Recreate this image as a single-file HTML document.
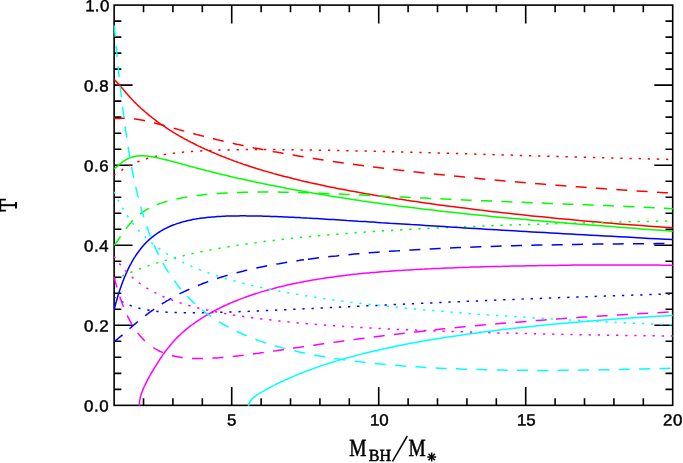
<!DOCTYPE html>
<html><head><meta charset="utf-8"><title>T vs M_BH/M_*</title>
<style>html,body{margin:0;padding:0;background:#fff;}body{width:683px;height:463px;overflow:hidden;}svg{display:block;will-change:transform;}text{font-family:"Liberation Sans",sans-serif;fill:#000;}.ser{font-family:"Liberation Serif",serif;}</style>
</head><body>
<svg width="683" height="463" viewBox="0 0 683 463">
<rect x="0" y="0" width="683" height="463" fill="#ffffff"/>
<g stroke="#000" stroke-width="1.60" fill="none" stroke-linecap="square">
<rect x="114.13" y="5.10" width="558.57" height="400.25"/>
</g>
<g stroke="#000" stroke-width="1.60" fill="none" stroke-linecap="butt">
<path d="M143.53,405.35 v-7.20 M143.53,5.10 v7.20"/>
<path d="M172.93,405.35 v-7.20 M172.93,5.10 v7.20"/>
<path d="M202.33,405.35 v-7.20 M202.33,5.10 v7.20"/>
<path d="M231.72,405.35 v-18.40 M231.72,5.10 v18.40"/>
<path d="M261.12,405.35 v-7.20 M261.12,5.10 v7.20"/>
<path d="M290.52,405.35 v-7.20 M290.52,5.10 v7.20"/>
<path d="M319.92,405.35 v-7.20 M319.92,5.10 v7.20"/>
<path d="M349.32,405.35 v-7.20 M349.32,5.10 v7.20"/>
<path d="M378.72,405.35 v-18.40 M378.72,5.10 v18.40"/>
<path d="M408.11,405.35 v-7.20 M408.11,5.10 v7.20"/>
<path d="M437.51,405.35 v-7.20 M437.51,5.10 v7.20"/>
<path d="M466.91,405.35 v-7.20 M466.91,5.10 v7.20"/>
<path d="M496.31,405.35 v-7.20 M496.31,5.10 v7.20"/>
<path d="M525.71,405.35 v-18.40 M525.71,5.10 v18.40"/>
<path d="M555.11,405.35 v-7.20 M555.11,5.10 v7.20"/>
<path d="M584.50,405.35 v-7.20 M584.50,5.10 v7.20"/>
<path d="M613.90,405.35 v-7.20 M613.90,5.10 v7.20"/>
<path d="M643.30,405.35 v-7.20 M643.30,5.10 v7.20"/>
<path d="M114.13,389.34 h7.20 M672.70,389.34 h-7.20"/>
<path d="M114.13,373.33 h7.20 M672.70,373.33 h-7.20"/>
<path d="M114.13,357.32 h7.20 M672.70,357.32 h-7.20"/>
<path d="M114.13,341.31 h7.20 M672.70,341.31 h-7.20"/>
<path d="M114.13,325.30 h18.40 M672.70,325.30 h-18.40"/>
<path d="M114.13,309.29 h7.20 M672.70,309.29 h-7.20"/>
<path d="M114.13,293.28 h7.20 M672.70,293.28 h-7.20"/>
<path d="M114.13,277.27 h7.20 M672.70,277.27 h-7.20"/>
<path d="M114.13,261.26 h7.20 M672.70,261.26 h-7.20"/>
<path d="M114.13,245.25 h18.40 M672.70,245.25 h-18.40"/>
<path d="M114.13,229.24 h7.20 M672.70,229.24 h-7.20"/>
<path d="M114.13,213.23 h7.20 M672.70,213.23 h-7.20"/>
<path d="M114.13,197.22 h7.20 M672.70,197.22 h-7.20"/>
<path d="M114.13,181.21 h7.20 M672.70,181.21 h-7.20"/>
<path d="M114.13,165.20 h18.40 M672.70,165.20 h-18.40"/>
<path d="M114.13,149.19 h7.20 M672.70,149.19 h-7.20"/>
<path d="M114.13,133.18 h7.20 M672.70,133.18 h-7.20"/>
<path d="M114.13,117.17 h7.20 M672.70,117.17 h-7.20"/>
<path d="M114.13,101.16 h7.20 M672.70,101.16 h-7.20"/>
<path d="M114.13,85.15 h18.40 M672.70,85.15 h-18.40"/>
<path d="M114.13,69.14 h7.20 M672.70,69.14 h-7.20"/>
<path d="M114.13,53.13 h7.20 M672.70,53.13 h-7.20"/>
<path d="M114.13,37.12 h7.20 M672.70,37.12 h-7.20"/>
<path d="M114.13,21.11 h7.20 M672.70,21.11 h-7.20"/>
</g>
<defs><clipPath id="cp"><rect x="113.53" y="4.50" width="559.77" height="401.45"/></clipPath></defs>
<g fill="none" stroke-width="1.50" clip-path="url(#cp)">
<path id="red_solid" d="M114.2,79.7L114.6,80.0L115.0,80.4L115.4,80.8L115.8,81.2L116.3,81.6L116.7,82.1L117.2,82.5L117.6,83.0L118.0,83.5L118.5,84.0L119.0,84.5L119.4,85.1L119.9,85.6L120.4,86.2L120.9,86.7L121.4,87.3L121.9,87.9L122.4,88.5L122.9,89.1L123.5,89.7L124.0,90.3L124.5,91.0L125.1,91.6L125.6,92.3L126.2,92.9L126.8,93.6L127.3,94.2L127.9,94.9L128.5,95.5L129.1,96.2L129.7,96.9L130.3,97.6L131.0,98.2L131.6,98.9L132.2,99.6L132.9,100.3L133.6,101.0L134.2,101.7L134.9,102.4L135.6,103.1L136.3,103.8L137.0,104.5L137.7,105.2L138.5,105.9L139.2,106.6L140.0,107.3L140.7,108.0L141.5,108.7L142.3,109.4L143.1,110.1L143.9,110.8L144.7,111.5L145.5,112.2L146.3,112.9L147.2,113.7L148.1,114.4L148.9,115.1L149.8,115.8L150.7,116.5L151.6,117.2L152.5,118.0L153.5,118.7L154.4,119.4L155.4,120.1L156.3,120.8L157.3,121.6L158.3,122.3L159.3,123.0L160.3,123.8L161.4,124.5L162.4,125.2L163.5,126.0L164.6,126.7L165.7,127.4L166.8,128.2L167.9,128.9L169.1,129.6L170.2,130.4L171.4,131.1L172.6,131.8L173.8,132.6L175.1,133.3L176.3,134.1L177.6,134.8L178.8,135.6L180.1,136.3L181.4,137.0L182.8,137.8L184.1,138.5L185.5,139.3L186.9,140.0L188.3,140.8L189.7,141.5L191.2,142.3L192.6,143.0L194.1,143.8L195.6,144.5L197.1,145.3L198.7,146.1L200.3,146.8L201.8,147.6L203.5,148.3L205.1,149.1L206.8,149.8L208.4,150.6L210.1,151.3L211.9,152.1L213.6,152.8L215.4,153.6L217.2,154.3L219.0,155.1L220.8,155.8L222.7,156.6L224.6,157.3L226.6,158.1L228.5,158.8L230.5,159.6L232.5,160.3L234.5,161.1L236.6,161.8L238.7,162.6L240.8,163.3L242.9,164.1L245.1,164.8L247.3,165.5L249.6,166.3L251.8,167.0L254.1,167.7L256.5,168.5L258.8,169.2L261.2,169.9L263.7,170.7L266.1,171.4L268.6,172.1L271.2,172.8L273.7,173.6L276.3,174.3L279.0,175.0L281.6,175.7L284.4,176.4L287.1,177.1L289.9,177.8L292.7,178.5L295.6,179.2L298.5,179.9L301.4,180.7L304.4,181.4L307.4,182.1L310.5,182.8L313.6,183.4L316.8,184.1L319.9,184.8L323.2,185.5L326.5,186.2L329.8,186.9L333.2,187.6L336.6,188.3L340.1,188.9L343.6,189.6L347.1,190.3L350.8,191.0L354.4,191.6L358.1,192.3L361.9,193.0L365.7,193.7L369.6,194.3L373.5,195.0L377.5,195.7L381.5,196.3L385.6,197.0L389.7,197.7L393.9,198.3L398.2,199.0L402.5,199.6L406.9,200.3L411.3,200.9L415.8,201.6L420.4,202.3L425.0,202.9L429.7,203.6L434.4,204.2L439.3,204.9L444.1,205.5L449.1,206.2L454.1,206.8L459.2,207.5L464.4,208.1L469.6,208.8L474.9,209.4L480.2,210.1L485.7,210.7L491.2,211.4L496.8,212.0L502.5,212.7L508.2,213.3L514.1,213.9L520.0,214.6L526.0,215.2L532.1,215.9L538.2,216.5L544.5,217.1L550.8,217.8L557.2,218.4L563.7,219.0L570.3,219.6L577.0,220.3L583.8,220.9L590.7,221.5L597.6,222.1L604.7,222.7L611.9,223.3L619.1,223.9L626.5,224.5L633.9,225.0L641.5,225.6L649.2,226.2L656.9,226.7L664.8,227.3L672.8,227.8" stroke="#ff0000"/>
<path id="red_dashed" d="M113.8,118.5L114.2,118.5L114.6,118.5L115.0,118.5L115.4,118.5L115.8,118.5L116.3,118.5L116.7,118.5L117.2,118.5L117.6,118.5L118.0,118.4L118.5,118.4L119.0,118.4L119.4,118.4L119.9,118.4L120.4,118.3L120.9,118.3L121.4,118.3L121.9,118.3L122.4,118.3L122.9,118.3L123.5,118.3L124.0,118.3L124.5,118.3L125.1,118.3L125.6,118.3L126.2,118.3L126.8,118.3L127.3,118.3L127.9,118.4L128.5,118.4L129.1,118.4L129.7,118.5L130.3,118.5L131.0,118.5L131.6,118.6L132.2,118.7L132.9,118.7L133.6,118.8L134.2,118.9L134.9,119.0L135.6,119.1L136.3,119.2L137.0,119.3L137.7,119.4L138.5,119.5L139.2,119.6L140.0,119.7L140.7,119.9L141.5,120.0L142.3,120.2L143.1,120.3L143.9,120.5L144.7,120.7L145.5,120.8L146.3,121.0L147.2,121.2L148.1,121.4L148.9,121.6L149.8,121.8L150.7,122.0L151.6,122.2L152.5,122.5L153.5,122.7L154.4,122.9L155.4,123.2L156.3,123.4L157.3,123.7L158.3,124.0L159.3,124.2L160.3,124.5L161.4,124.8L162.4,125.1L163.5,125.3L164.6,125.6L165.7,126.0L166.8,126.2L167.9,126.6L169.1,126.9L170.2,127.2L171.4,127.5L172.6,127.9L173.8,128.2L175.1,128.6L176.3,128.9L177.6,129.2L178.8,129.6L180.1,130.0L181.4,130.3L182.8,130.7L184.1,131.1L185.5,131.4L186.9,131.8L188.3,132.2L189.7,132.6L191.2,133.0L192.6,133.4L194.1,133.8L195.6,134.2L197.1,134.6L198.7,135.0L200.3,135.4L201.8,135.8L203.5,136.2L205.1,136.7L206.8,137.1L208.4,137.5L210.1,137.9L211.9,138.4L213.6,138.8L215.4,139.2L217.2,139.7L219.0,140.1L220.8,140.6L222.7,141.0L224.6,141.4L226.6,141.9L228.5,142.3L230.5,142.8L232.5,143.2L234.5,143.7L236.6,144.2L238.7,144.6L240.8,145.1L242.9,145.5L245.1,146.0L247.3,146.5L249.6,146.9L251.8,147.4L254.1,147.9L256.5,148.3L258.8,148.8L261.2,149.3L263.7,149.8L266.1,150.2L268.6,150.7L271.2,151.2L273.7,151.7L276.3,152.1L279.0,152.6L281.6,153.1L284.4,153.6L287.1,154.1L289.9,154.5L292.7,155.0L295.6,155.5L298.5,156.0L301.4,156.5L304.4,157.0L307.4,157.5L310.5,157.9L313.6,158.4L316.8,158.9L319.9,159.4L323.2,159.9L326.5,160.4L329.8,160.9L333.2,161.4L336.6,161.9L340.1,162.4L343.6,162.9L347.1,163.4L350.8,163.9L354.4,164.4L358.1,164.9L361.9,165.4L365.7,165.9L369.6,166.4L373.5,166.9L377.5,167.4L381.5,167.9L385.6,168.4L389.7,168.9L393.9,169.4L398.2,169.9L402.5,170.4L406.9,170.9L411.3,171.5L415.8,172.0L420.4,172.5L425.0,173.0L429.7,173.5L434.4,174.0L439.3,174.5L444.1,175.0L449.1,175.6L454.1,176.1L459.2,176.6L464.4,177.1L469.6,177.6L474.9,178.1L480.2,178.7L485.7,179.2L491.2,179.7L496.8,180.2L502.5,180.7L508.2,181.2L514.1,181.7L520.0,182.2L526.0,182.8L532.1,183.3L538.2,183.8L544.5,184.3L550.8,184.8L557.2,185.3L563.7,185.8L570.3,186.3L577.0,186.8L583.8,187.3L590.7,187.8L597.6,188.3L604.7,188.8L611.9,189.3L619.1,189.8L626.5,190.3L633.9,190.8L641.5,191.2L649.2,191.7L656.9,192.2L664.8,192.7L672.8,193.1" stroke="#ff0000" stroke-dasharray="11.05 9.3"/>
<path id="red_dotted" d="M114.2,175.2L114.6,174.9L115.0,174.7L115.4,174.4L115.8,174.1L116.3,173.8L116.7,173.5L117.2,173.2L117.6,172.9L118.0,172.6L118.5,172.3L119.0,172.0L119.4,171.7L119.9,171.4L120.4,171.1L120.9,170.8L121.4,170.4L121.9,170.1L122.4,169.8L122.9,169.4L123.5,169.1L124.0,168.8L124.5,168.5L125.1,168.1L125.6,167.8L126.2,167.5L126.8,167.1L127.3,166.8L127.9,166.5L128.5,166.2L129.1,165.8L129.7,165.5L130.3,165.2L131.0,164.9L131.6,164.6L132.2,164.2L132.9,163.9L133.6,163.6L134.2,163.3L134.9,163.0L135.6,162.7L136.3,162.4L137.0,162.1L137.7,161.8L138.5,161.5L139.2,161.2L140.0,160.9L140.7,160.7L141.5,160.4L142.3,160.1L143.1,159.8L143.9,159.6L144.7,159.3L145.5,159.0L146.3,158.8L147.2,158.5L148.1,158.3L148.9,158.0L149.8,157.8L150.7,157.5L151.6,157.3L152.5,157.1L153.5,156.8L154.4,156.6L155.4,156.4L156.3,156.2L157.3,155.9L158.3,155.7L159.3,155.5L160.3,155.3L161.4,155.1L162.4,154.9L163.5,154.8L164.6,154.6L165.7,154.4L166.8,154.2L167.9,154.0L169.1,153.8L170.2,153.7L171.4,153.5L172.6,153.4L173.8,153.2L175.1,153.1L176.3,152.9L177.6,152.8L178.8,152.6L180.1,152.5L181.4,152.3L182.8,152.2L184.1,152.1L185.5,152.0L186.9,151.8L188.3,151.7L189.7,151.6L191.2,151.5L192.6,151.4L194.1,151.3L195.6,151.2L197.1,151.1L198.7,151.0L200.3,150.9L201.8,150.8L203.5,150.7L205.1,150.7L206.8,150.6L208.4,150.5L210.1,150.4L211.9,150.4L213.6,150.3L215.4,150.2L217.2,150.2L219.0,150.1L220.8,150.1L222.7,150.0L224.6,150.0L226.6,149.9L228.5,149.9L230.5,149.8L232.5,149.8L234.5,149.8L236.6,149.7L238.7,149.7L240.8,149.7L242.9,149.7L245.1,149.6L247.3,149.6L249.6,149.6L251.8,149.6L254.1,149.6L256.5,149.6L258.8,149.6L261.2,149.6L263.7,149.6L266.1,149.6L268.6,149.6L271.2,149.6L273.7,149.6L276.3,149.6L279.0,149.7L281.6,149.7L284.4,149.7L287.1,149.7L289.9,149.7L292.7,149.8L295.6,149.8L298.5,149.8L301.4,149.9L304.4,149.9L307.4,150.0L310.5,150.0L313.6,150.1L316.8,150.1L319.9,150.2L323.2,150.2L326.5,150.3L329.8,150.3L333.2,150.4L336.6,150.5L340.1,150.6L343.6,150.6L347.1,150.7L350.8,150.8L354.4,150.9L358.1,150.9L361.9,151.0L365.7,151.1L369.6,151.2L373.5,151.3L377.5,151.4L381.5,151.5L385.6,151.6L389.7,151.7L393.9,151.8L398.2,151.9L402.5,152.1L406.9,152.2L411.3,152.3L415.8,152.4L420.4,152.5L425.0,152.7L429.7,152.8L434.4,152.9L439.3,153.1L444.1,153.2L449.1,153.3L454.1,153.5L459.2,153.6L464.4,153.8L469.6,153.9L474.9,154.1L480.2,154.2L485.7,154.4L491.2,154.6L496.8,154.7L502.5,154.9L508.2,155.0L514.1,155.2L520.0,155.4L526.0,155.6L532.1,155.7L538.2,155.9L544.5,156.1L550.8,156.3L557.2,156.4L563.7,156.6L570.3,156.8L577.0,157.0L583.8,157.2L590.7,157.4L597.6,157.6L604.7,157.7L611.9,157.9L619.1,158.1L626.5,158.3L633.9,158.5L641.5,158.7L649.2,158.9L656.9,159.1L664.8,159.3L672.8,159.5" stroke="#ff0000" stroke-dasharray="2.3 6.84" stroke-dashoffset="0.65"/>
<path id="green_solid" d="M114.2,168.8L114.6,168.6L115.0,168.2L115.4,167.9L115.8,167.6L116.3,167.2L116.7,166.8L117.2,166.5L117.6,166.1L118.0,165.7L118.5,165.3L119.0,164.9L119.4,164.5L119.9,164.1L120.4,163.7L120.9,163.3L121.4,162.9L121.9,162.5L122.4,162.1L122.9,161.7L123.5,161.3L124.0,161.0L124.5,160.6L125.1,160.3L125.6,159.9L126.2,159.6L126.8,159.3L127.3,159.0L127.9,158.7L128.5,158.4L129.1,158.2L129.7,157.9L130.3,157.7L131.0,157.4L131.6,157.2L132.2,157.0L132.9,156.8L133.6,156.7L134.2,156.5L134.9,156.4L135.6,156.2L136.3,156.1L137.0,156.1L137.7,156.0L138.5,155.9L139.2,155.8L140.0,155.8L140.7,155.8L141.5,155.8L142.3,155.8L143.1,155.8L143.9,155.8L144.7,155.9L145.5,155.9L146.3,156.0L147.2,156.1L148.1,156.2L148.9,156.3L149.8,156.4L150.7,156.5L151.6,156.7L152.5,156.8L153.5,157.0L154.4,157.2L155.4,157.3L156.3,157.5L157.3,157.7L158.3,157.9L159.3,158.2L160.3,158.4L161.4,158.7L162.4,158.9L163.5,159.2L164.6,159.4L165.7,159.7L166.8,160.0L167.9,160.3L169.1,160.6L170.2,160.9L171.4,161.2L172.6,161.5L173.8,161.8L175.1,162.2L176.3,162.5L177.6,162.8L178.8,163.2L180.1,163.6L181.4,163.9L182.8,164.3L184.1,164.6L185.5,165.0L186.9,165.4L188.3,165.8L189.7,166.2L191.2,166.6L192.6,166.9L194.1,167.3L195.6,167.8L197.1,168.2L198.7,168.6L200.3,169.0L201.8,169.4L203.5,169.8L205.1,170.2L206.8,170.7L208.4,171.1L210.1,171.5L211.9,172.0L213.6,172.4L215.4,172.8L217.2,173.3L219.0,173.8L220.8,174.2L222.7,174.7L224.6,175.1L226.6,175.6L228.5,176.0L230.5,176.5L232.5,177.0L234.5,177.4L236.6,177.9L238.7,178.4L240.8,178.8L242.9,179.3L245.1,179.8L247.3,180.3L249.6,180.8L251.8,181.3L254.1,181.8L256.5,182.2L258.8,182.8L261.2,183.2L263.7,183.8L266.1,184.2L268.6,184.8L271.2,185.3L273.7,185.8L276.3,186.3L279.0,186.8L281.6,187.3L284.4,187.8L287.1,188.4L289.9,188.9L292.7,189.4L295.6,189.9L298.5,190.5L301.4,191.0L304.4,191.5L307.4,192.1L310.5,192.6L313.6,193.2L316.8,193.7L319.9,194.2L323.2,194.8L326.5,195.3L329.8,195.9L333.2,196.4L336.6,197.0L340.1,197.5L343.6,198.1L347.1,198.6L350.8,199.2L354.4,199.7L358.1,200.3L361.9,200.9L365.7,201.4L369.6,202.0L373.5,202.5L377.5,203.1L381.5,203.7L385.6,204.2L389.7,204.8L393.9,205.3L398.2,205.9L402.5,206.4L406.9,207.0L411.3,207.6L415.8,208.1L420.4,208.7L425.0,209.2L429.7,209.8L434.4,210.3L439.3,210.9L444.1,211.5L449.1,212.0L454.1,212.6L459.2,213.1L464.4,213.7L469.6,214.2L474.9,214.8L480.2,215.3L485.7,215.8L491.2,216.4L496.8,216.9L502.5,217.5L508.2,218.0L514.1,218.5L520.0,219.1L526.0,219.6L532.1,220.2L538.2,220.7L544.5,221.2L550.8,221.8L557.2,222.3L563.7,222.8L570.3,223.4L577.0,223.9L583.8,224.4L590.7,225.0L597.6,225.5L604.7,226.1L611.9,226.6L619.1,227.2L626.5,227.7L633.9,228.3L641.5,228.9L649.2,229.4L656.9,230.0L664.8,230.6L672.8,231.2" stroke="#00ff00"/>
<path id="green_dashed" d="M113.9,245.2L114.2,245.0L114.6,244.6L115.0,244.2L115.4,243.7L115.8,243.2L116.3,242.6L116.7,242.1L117.2,241.5L117.6,240.8L118.0,240.2L118.5,239.5L119.0,238.8L119.4,238.1L119.9,237.4L120.4,236.7L120.9,236.0L121.4,235.2L121.9,234.5L122.4,233.7L122.9,232.9L123.5,232.2L124.0,231.4L124.5,230.7L125.1,229.9L125.6,229.1L126.2,228.4L126.8,227.6L127.3,226.9L127.9,226.1L128.5,225.4L129.1,224.7L129.7,223.9L130.3,223.2L131.0,222.5L131.6,221.8L132.2,221.1L132.9,220.4L133.6,219.7L134.2,219.1L134.9,218.4L135.6,217.8L136.3,217.1L137.0,216.5L137.7,215.9L138.5,215.3L139.2,214.7L140.0,214.1L140.7,213.5L141.5,213.0L142.3,212.4L143.1,211.9L143.9,211.3L144.7,210.8L145.5,210.3L146.3,209.8L147.2,209.3L148.1,208.8L148.9,208.4L149.8,207.9L150.7,207.5L151.6,207.0L152.5,206.6L153.2,206.3M156.9,204.7L157.3,204.6L158.3,204.2L159.3,203.8L160.3,203.4L161.4,203.1L162.4,202.7L163.5,202.4L164.6,202.0L165.7,201.7L166.8,201.4L167.9,201.1L169.1,200.8L170.2,200.4L171.4,200.2L172.6,199.9L173.8,199.6L175.1,199.3L176.3,199.0L177.6,198.8L178.8,198.5L180.1,198.2L181.4,198.0L182.8,197.7L184.1,197.5L185.5,197.2L186.9,197.0L188.3,196.8L189.7,196.6L191.2,196.3L192.6,196.1L194.1,195.9L195.6,195.7L197.1,195.5L198.7,195.3L200.3,195.2L201.8,195.0L203.5,194.8L205.1,194.6L206.8,194.5L208.4,194.3L210.1,194.1L211.9,194.0L213.6,193.8L215.4,193.7L217.2,193.6L219.0,193.4L220.8,193.3L222.7,193.2L224.6,193.1L226.6,193.0L228.5,192.9L230.5,192.8L232.5,192.7L234.5,192.6L236.6,192.5L238.7,192.4L240.8,192.4L242.9,192.3L245.1,192.3L247.3,192.2L249.6,192.2L251.8,192.1L254.1,192.1L256.5,192.1L258.8,192.1L261.2,192.0L263.7,192.0L266.1,192.0L268.6,192.1L271.2,192.1L273.7,192.1L276.3,192.1L279.0,192.1L281.6,192.2L284.4,192.2L287.1,192.3L289.9,192.3L292.7,192.4L295.6,192.5L298.5,192.6L301.4,192.6L304.4,192.7L307.4,192.8L310.5,192.9L313.6,193.0L316.8,193.2L319.9,193.3L323.2,193.4L326.5,193.5L329.8,193.7L333.2,193.8L336.6,193.9L340.1,194.1L343.6,194.3L347.1,194.4L350.8,194.6L354.4,194.8L358.1,194.9L361.9,195.1L365.7,195.3L369.6,195.5L373.5,195.7L377.5,195.8L381.5,196.1L385.6,196.2L389.7,196.4L393.9,196.7L398.2,196.9L402.5,197.1L406.9,197.3L411.3,197.5L415.8,197.7L420.4,197.9L425.0,198.1L429.7,198.4L434.4,198.6L439.3,198.8L444.1,199.0L449.1,199.2L454.1,199.5L459.2,199.7L464.4,199.9L469.6,200.2L474.9,200.4L480.2,200.6L485.7,200.8L491.2,201.1L496.8,201.3L502.5,201.5L508.2,201.8L514.1,202.0L520.0,202.2L526.0,202.4L532.1,202.7L538.2,202.9L544.5,203.2L550.8,203.4L557.2,203.7L563.7,203.9L570.3,204.2L577.0,204.4L583.8,204.7L590.7,205.0L597.6,205.2L604.7,205.5L611.9,205.8L619.1,206.1L626.5,206.5L633.9,206.8L641.5,207.1L649.2,207.5L656.9,207.9L664.8,208.2L672.8,208.7" stroke="#00ff00" stroke-dasharray="11.05 9.3"/>
<path id="green_dotted" d="M114.2,279.4L114.6,279.3L115.0,279.1L115.4,278.9L115.8,278.8L116.3,278.6L116.7,278.4L117.2,278.2L117.6,278.0L118.0,277.8L118.5,277.6L119.0,277.4L119.4,277.2L119.9,277.0L120.4,276.8L120.9,276.6L121.4,276.3L121.9,276.1L122.4,275.9L122.9,275.7L123.5,275.4L124.0,275.2L124.5,275.0L125.1,274.8L125.6,274.5L126.2,274.3L126.8,274.0L127.3,273.8L127.9,273.5L128.5,273.3L129.1,273.0L129.7,272.8L130.3,272.5L131.0,272.3L131.6,272.0L132.2,271.8L132.9,271.5L133.6,271.2L134.2,271.0L134.9,270.7L135.6,270.4L136.3,270.2L137.0,269.9L137.7,269.6L138.5,269.3L139.2,269.1L140.0,268.8L140.7,268.5L141.5,268.2L142.3,267.9L143.1,267.6L143.9,267.4L144.7,267.1L145.5,266.8L146.3,266.5L147.2,266.2L148.1,265.9L148.9,265.6L149.8,265.3L150.7,265.0L151.6,264.7L152.5,264.4L153.5,264.1L154.4,263.8L155.4,263.5L156.3,263.2L157.3,262.9L158.3,262.6L159.3,262.2L160.3,261.9L161.4,261.6L162.4,261.3L163.5,261.0L164.6,260.7L165.7,260.4L166.8,260.1L167.9,259.7L169.1,259.4L170.2,259.1L171.4,258.8L172.6,258.5L173.8,258.1L175.1,257.8L176.3,257.5L177.6,257.2L178.8,256.9L180.1,256.5L181.4,256.2L182.8,255.9L184.1,255.6L185.5,255.2L186.9,254.9L188.3,254.6L189.7,254.3L191.2,253.9L192.6,253.6L194.1,253.3L195.6,252.9L197.1,252.6L198.7,252.3L200.3,252.0L201.8,251.6L203.5,251.3L205.1,251.0L206.8,250.7L208.4,250.3L210.1,250.0L211.9,249.7L213.6,249.3L215.4,249.0L217.2,248.7L219.0,248.4L220.8,248.0L222.7,247.7L224.6,247.4L226.6,247.1L228.5,246.7L230.5,246.4L232.5,246.1L234.5,245.8L236.6,245.4L238.7,245.1L240.8,244.8L242.9,244.5L245.1,244.2L247.3,243.8L249.6,243.5L251.8,243.2L254.1,242.9L256.5,242.6L258.8,242.2L261.2,241.9L263.7,241.6L266.1,241.3L268.6,241.0L271.2,240.7L273.7,240.4L276.3,240.1L279.0,239.8L281.6,239.4L284.4,239.2L287.1,238.8L289.9,238.5L292.7,238.2L295.6,237.9L298.5,237.6L301.4,237.3L304.4,237.1L307.4,236.8L310.5,236.5L313.6,236.2L316.8,235.9L319.9,235.6L323.2,235.3L326.5,235.0L329.8,234.8L333.2,234.5L336.6,234.2L340.1,233.9L343.6,233.6L347.1,233.4L350.8,233.1L354.4,232.8L358.1,232.6L361.9,232.3L365.7,232.0L369.6,231.8L373.5,231.5L377.5,231.3L381.5,231.0L385.6,230.8L389.7,230.5L393.9,230.3L398.2,230.0L402.5,229.8L406.9,229.5L411.3,229.3L415.8,229.1L420.4,228.8L425.0,228.6L429.7,228.3L434.4,228.1L439.3,227.9L444.1,227.7L449.1,227.4L454.1,227.2L459.2,227.0L464.4,226.8L469.6,226.6L474.9,226.4L480.2,226.2L485.7,225.9L491.2,225.7L496.8,225.5L502.5,225.3L508.2,225.1L514.1,224.9L520.0,224.7L526.0,224.6L532.1,224.4L538.2,224.2L544.5,224.0L550.8,223.8L557.2,223.6L563.7,223.4L570.3,223.2L577.0,223.1L583.8,222.9L590.7,222.7L597.6,222.6L604.7,222.4L611.9,222.2L619.1,222.0L626.5,221.9L633.9,221.7L641.5,221.5L649.2,221.4L656.9,221.2L664.8,221.0L672.8,220.9" stroke="#00ff00" stroke-dasharray="2.3 6.84" stroke-dashoffset="0.65"/>
<path id="blue_solid" d="M114.2,309.5L114.6,307.9L115.0,306.3L115.4,304.8L115.8,303.2L116.3,301.7L116.7,300.1L117.2,298.6L117.6,297.1L118.0,295.6L118.5,294.1L119.0,292.7L119.4,291.2L119.9,289.8L120.4,288.3L120.9,286.9L121.4,285.5L121.9,284.1L122.4,282.7L122.9,281.3L123.5,280.0L124.0,278.6L124.5,277.3L125.1,276.0L125.6,274.7L126.2,273.4L126.8,272.1L127.3,270.9L127.9,269.6L128.5,268.4L129.1,267.2L129.7,265.9L130.3,264.8L131.0,263.6L131.6,262.4L132.2,261.3L132.9,260.2L133.6,259.0L134.2,257.9L134.9,256.9L135.6,255.8L136.3,254.7L137.0,253.7L137.7,252.7L138.5,251.7L139.2,250.7L140.0,249.7L140.7,248.7L141.5,247.8L142.3,246.8L143.1,245.9L143.9,245.0L144.7,244.1L145.5,243.3L146.3,242.4L147.2,241.6L148.1,240.7L148.9,239.9L149.8,239.1L150.7,238.3L151.6,237.6L152.5,236.8L153.5,236.1L154.4,235.4L155.4,234.7L156.3,234.0L157.3,233.3L158.3,232.6L159.3,232.0L160.3,231.3L161.4,230.7L162.4,230.1L163.5,229.5L164.6,228.9L165.7,228.4L166.8,227.8L167.9,227.3L169.1,226.8L170.2,226.3L171.4,225.8L172.6,225.3L173.8,224.8L175.1,224.4L176.3,223.9L177.6,223.5L178.8,223.1L180.1,222.7L181.4,222.3L182.8,221.9L184.1,221.5L185.5,221.2L186.9,220.8L188.3,220.5L189.7,220.2L191.2,219.9L192.6,219.6L194.1,219.3L195.6,219.1L197.1,218.8L198.7,218.6L200.3,218.3L201.8,218.1L203.5,217.9L205.1,217.7L206.8,217.5L208.4,217.3L210.1,217.2L211.9,217.0L213.6,216.9L215.4,216.7L217.2,216.6L219.0,216.5L220.8,216.4L222.7,216.3L224.6,216.2L226.6,216.1L228.5,216.1L230.5,216.0L232.5,216.0L234.5,215.9L236.6,215.9L238.7,215.9L240.8,215.8L242.9,215.8L245.1,215.8L247.3,215.9L249.6,215.9L251.8,215.9L254.1,215.9L256.5,216.0L258.8,216.0L261.2,216.1L263.7,216.2L266.1,216.2L268.6,216.3L271.2,216.4L273.7,216.5L276.3,216.6L279.0,216.7L281.6,216.8L284.4,216.9L287.1,217.0L289.9,217.2L292.7,217.3L295.6,217.4L298.5,217.6L301.4,217.8L304.4,217.9L307.4,218.1L310.5,218.2L313.6,218.4L316.8,218.6L319.9,218.8L323.2,219.0L326.5,219.2L329.8,219.4L333.2,219.6L336.6,219.8L340.1,220.0L343.6,220.2L347.1,220.5L350.8,220.7L354.4,220.9L358.1,221.2L361.9,221.4L365.7,221.6L369.6,221.9L373.5,222.1L377.5,222.4L381.5,222.7L385.6,222.9L389.7,223.2L393.9,223.4L398.2,223.7L402.5,224.0L406.9,224.3L411.3,224.6L415.8,224.8L420.4,225.1L425.0,225.4L429.7,225.7L434.4,226.0L439.3,226.3L444.1,226.6L449.1,226.9L454.1,227.2L459.2,227.6L464.4,227.9L469.6,228.2L474.9,228.5L480.2,228.8L485.7,229.2L491.2,229.5L496.8,229.8L502.5,230.2L508.2,230.5L514.1,230.8L520.0,231.2L526.0,231.5L532.1,231.9L538.2,232.2L544.5,232.6L550.8,233.0L557.2,233.3L563.7,233.7L570.3,234.1L577.0,234.4L583.8,234.8L590.7,235.2L597.6,235.6L604.7,236.0L611.9,236.3L619.1,236.7L626.5,237.1L633.9,237.5L641.5,237.9L649.2,238.4L656.9,238.8L664.8,239.2L672.8,239.6" stroke="#0000ff"/>
<path id="blue_dashed" d="M113.9,341.7L114.2,341.4L114.6,341.2L115.0,340.9L115.4,340.6L115.8,340.3L116.3,339.9L116.7,339.6L117.2,339.3L117.6,338.9L118.0,338.6L118.5,338.2L119.0,337.8L119.4,337.4L119.9,337.0L120.4,336.6L120.9,336.2L121.4,335.8L121.9,335.4L122.4,334.9L122.9,334.5L123.5,334.0L124.0,333.6L124.5,333.1L125.1,332.6L125.6,332.1L126.2,331.7L126.8,331.2L127.3,330.6L127.9,330.1L128.5,329.6L129.1,329.1L129.7,328.6L130.3,328.0L131.0,327.5L131.6,326.9L132.2,326.4L132.9,325.8L133.6,325.2L134.2,324.7L134.9,324.1L135.6,323.5L136.3,322.9L137.0,322.3L137.7,321.7L138.5,321.1L139.2,320.5L140.0,319.9L140.7,319.3L141.5,318.6L142.3,318.0L143.1,317.4L143.9,316.8L144.7,316.1L145.5,315.5L146.3,314.9L147.2,314.2L148.1,313.6L148.9,312.9L149.8,312.2L150.7,311.6L151.6,310.9L152.5,310.3L153.5,309.6L154.4,309.0L155.4,308.3L156.3,307.6L157.3,307.0L158.3,306.3L159.3,305.6L160.3,305.0L161.4,304.3L162.4,303.6L163.5,302.9L164.6,302.3L165.7,301.6L166.8,300.9L167.9,300.3L169.1,299.6L170.2,298.9L171.4,298.3L172.6,297.6L173.8,296.9L175.1,296.3L176.3,295.6L177.6,294.9L178.8,294.3L180.1,293.6L181.4,292.9L182.8,292.3L184.1,291.6L185.5,291.0L186.9,290.3L188.3,289.7L189.7,289.0L191.2,288.4L192.6,287.8L194.1,287.1L195.6,286.5L197.1,285.8L198.7,285.2L200.3,284.6L201.8,284.0L203.5,283.3L205.1,282.7L206.8,282.1L208.4,281.5L210.1,280.9L211.9,280.3L213.6,279.7L215.4,279.1L217.2,278.5L219.0,277.9L220.8,277.3L222.7,276.7L224.6,276.1L226.6,275.6L228.5,275.0L230.5,274.4L232.5,273.9L234.5,273.3L236.6,272.8L238.7,272.2L240.8,271.7L242.9,271.2L245.1,270.6L247.3,270.1L249.6,269.6L251.8,269.1L254.1,268.5L256.5,268.0L258.8,267.5L261.2,267.0L263.7,266.5L266.1,266.0L268.6,265.6L271.2,265.1L273.7,264.6L276.3,264.1L279.0,263.7L281.6,263.2L284.4,262.8L287.1,262.3L289.9,261.9L292.7,261.4L295.6,261.0L298.5,260.6L301.4,260.1L304.0,259.8M308.0,259.2L310.5,258.9L313.6,258.5L316.8,258.1L319.9,257.7L323.2,257.3L326.5,257.0L329.8,256.6L333.2,256.2L336.6,255.9L340.1,255.5L343.6,255.1L347.1,254.8L350.8,254.4L354.4,254.1L358.1,253.8L361.9,253.5L365.7,253.1L369.6,252.8L373.5,252.5L377.5,252.2L381.5,251.9L385.6,251.6L389.7,251.3L393.9,251.0L398.2,250.8L402.5,250.5L406.9,250.2L411.3,249.9L415.8,249.7L420.4,249.4L425.0,249.2L429.7,248.9L434.4,248.7L439.3,248.5L444.1,248.2L449.1,248.0L454.1,247.8L459.2,247.6L464.4,247.4L469.6,247.2L474.9,247.0L480.2,246.8L485.7,246.6L491.2,246.4L496.8,246.2L502.5,246.1L508.2,245.9L514.1,245.7L520.0,245.6L526.0,245.4L532.1,245.3L538.2,245.1L544.5,245.0L550.8,244.9L557.2,244.8L563.7,244.6L570.3,244.5L577.0,244.4L583.8,244.3L590.7,244.2L597.6,244.1L604.7,244.1L611.9,244.0L619.1,243.9L626.5,243.8L633.9,243.8L641.5,243.7L649.2,243.7L656.9,243.6L664.8,243.6L672.8,243.6" stroke="#0000ff" stroke-dasharray="11.05 9.3"/>
<path id="blue_dotted" d="M114.2,297.1L114.6,297.4L115.0,297.6L115.4,297.9L115.8,298.1L116.3,298.4L116.7,298.7L117.2,298.9L117.6,299.2L118.0,299.4L118.5,299.7L119.0,300.0L119.4,300.3L119.9,300.5L120.4,300.8L120.9,301.1L121.4,301.3L121.9,301.6L122.4,301.9L122.9,302.1L123.5,302.4L124.0,302.7L124.5,302.9L125.1,303.2L125.6,303.4L126.2,303.7L126.8,304.0L127.3,304.2L127.9,304.5L128.5,304.7L129.1,305.0L129.7,305.2L130.3,305.4L131.0,305.7L131.6,305.9L132.2,306.1L132.9,306.4L133.6,306.6L134.2,306.8L134.9,307.0L135.6,307.2L136.3,307.4L137.0,307.6L137.7,307.9L138.5,308.1L139.2,308.2L140.0,308.4L140.7,308.6L141.5,308.8L142.3,309.0L143.1,309.2L143.9,309.3L144.7,309.5L145.5,309.6L146.3,309.8L147.2,310.0L148.1,310.1L148.9,310.3L149.8,310.4L150.7,310.5L151.6,310.7L152.5,310.8L153.5,310.9L154.4,311.1L155.4,311.2L156.3,311.3L157.3,311.4L158.3,311.5L159.3,311.6L160.3,311.7L161.4,311.8L162.4,311.9L163.5,311.9L164.6,312.0L165.7,312.1L166.8,312.2L167.9,312.2L169.1,312.3L170.2,312.4L171.4,312.4L172.6,312.5L173.8,312.5L175.1,312.6L176.3,312.6L177.6,312.6L178.8,312.7L180.1,312.7L181.4,312.7L182.8,312.8L184.1,312.8L185.5,312.8L186.9,312.8L188.3,312.8L189.7,312.8L191.2,312.8L192.6,312.8L194.1,312.8L195.6,312.8L197.1,312.8L198.7,312.8L200.3,312.8L201.8,312.7L203.5,312.7L205.1,312.7L206.8,312.7L208.4,312.6L210.1,312.6L211.9,312.6L213.6,312.5L215.4,312.5L217.2,312.4L219.0,312.4L220.8,312.3L222.7,312.2L224.6,312.2L226.6,312.1L228.5,312.1L230.5,312.0L232.5,311.9L234.5,311.9L236.6,311.8L238.7,311.7L240.8,311.6L242.9,311.5L245.1,311.4L247.3,311.4L249.6,311.3L251.8,311.2L254.1,311.1L256.5,311.0L258.8,310.9L261.2,310.8L263.7,310.7L266.1,310.6L268.6,310.5L271.2,310.4L273.7,310.2L276.3,310.1L279.0,310.0L281.6,309.9L284.4,309.8L287.1,309.6L289.9,309.5L292.7,309.4L295.6,309.2L298.5,309.1L301.4,309.0L304.4,308.8L307.4,308.7L310.5,308.5L313.6,308.4L316.8,308.2L319.9,308.1L323.2,307.9L326.5,307.8L329.8,307.6L333.2,307.5L336.6,307.3L340.1,307.1L343.6,307.0L347.1,306.8L350.8,306.6L354.4,306.4L358.1,306.3L361.9,306.1L365.7,305.9L369.6,305.7L373.5,305.6L377.5,305.4L381.5,305.2L385.6,305.0L389.7,304.8L393.9,304.6L398.2,304.4L402.5,304.2L406.9,304.0L411.3,303.8L415.8,303.6L420.4,303.4L425.0,303.2L429.7,303.0L434.4,302.8L439.3,302.6L444.1,302.3L449.1,302.1L454.1,301.9L459.2,301.7L464.4,301.5L469.6,301.2L474.9,301.0L480.2,300.8L485.7,300.6L491.2,300.3L496.8,300.1L502.5,299.9L508.2,299.6L514.1,299.4L520.0,299.2L526.0,298.9L532.1,298.7L538.2,298.5L544.5,298.2L550.8,298.0L557.2,297.7L563.7,297.5L570.3,297.3L577.0,297.0L583.8,296.8L590.7,296.5L597.6,296.3L604.7,296.1L611.9,295.8L619.1,295.6L626.5,295.3L633.9,295.1L641.5,294.9L649.2,294.6L656.9,294.4L664.8,294.1L672.8,293.9" stroke="#0000ff" stroke-dasharray="2.3 6.84" stroke-dashoffset="0.75"/>
<path id="magenta_solid" d="M139.5,405.8L139.5,402.2L139.7,401.0L139.8,399.8L140.1,398.6L140.3,397.4L140.7,396.1L141.0,394.9L141.4,393.7L141.8,392.5L142.3,391.3L142.7,390.1L143.2,388.9L143.8,387.7L144.3,386.5L144.9,385.3L145.4,384.1L146.0,382.9L146.7,381.7L147.3,380.4L147.9,379.2L148.6,378.0L149.2,376.8L149.9,375.6L150.6,374.4L151.3,373.2L152.0,372.0L152.7,370.8L153.4,369.6L154.1,368.4L154.9,367.2L155.6,366.0L156.4,364.8L157.1,363.6L157.9,362.4L158.7,361.1L159.5,359.9L160.3,358.7L161.1,357.5L161.9,356.3L162.7,355.1L163.6,353.9L164.4,352.7L165.3,351.5L166.2,350.3L167.2,349.1L168.1,347.9L169.1,346.7L170.0,345.5L171.0,344.3L172.1,343.1L173.1,341.9L174.2,340.7L175.3,339.5L176.5,338.3L177.7,337.1L178.9,335.9L180.2,334.7L181.4,333.5L182.8,332.3L184.2,331.1L185.6,329.9L187.1,328.7L188.6,327.4L190.1,326.2L191.8,325.0L193.4,323.8L195.1,322.6L196.9,321.3L198.8,320.1L200.7,318.8L202.6,317.6L204.7,316.3L206.8,315.0L208.9,313.8L210.4,312.9L211.6,312.3L212.7,311.7L213.8,311.1L215.0,310.5L216.2,309.9L217.3,309.2L218.5,308.7L219.7,308.1L220.9,307.5L222.1,306.9L223.3,306.3L224.6,305.7L225.8,305.2L227.1,304.6L228.3,304.0L229.6,303.5L230.9,302.9L232.2,302.4L233.5,301.8L234.8,301.3L236.2,300.7L237.5,300.2L238.9,299.6L240.3,299.1L241.6,298.6L243.0,298.1L244.4,297.6L245.9,297.0L247.3,296.5L248.8,296.0L250.2,295.5L251.7,295.0L253.2,294.5L254.7,294.0L256.2,293.5L257.7,293.1L259.2,292.6L260.8,292.1L262.4,291.6L264.0,291.1L265.6,290.7L267.2,290.2L268.8,289.8L270.4,289.3L272.1,288.9L273.8,288.4L275.4,288.0L277.1,287.6L278.8,287.1L280.6,286.7L282.3,286.3L284.1,285.9L285.9,285.4L287.6,285.0L289.4,284.6L291.3,284.2L293.1,283.8L295.0,283.4L296.8,283.0L298.7,282.7L300.6,282.3L302.6,281.9L304.5,281.5L306.5,281.2L308.4,280.8L310.4,280.4L312.4,280.1L314.5,279.8L316.5,279.4L318.6,279.1L320.6,278.8L322.8,278.4L324.9,278.1L327.0,277.8L329.2,277.5L331.4,277.2L333.5,276.9L335.8,276.6L338.0,276.3L340.2,276.0L342.5,275.7L344.8,275.4L347.1,275.1L349.5,274.9L351.8,274.6L354.2,274.3L356.6,274.1L359.0,273.8L361.5,273.6L363.9,273.3L366.4,273.1L368.9,272.9L371.5,272.6L374.0,272.4L376.6,272.2L379.2,272.0L381.8,271.8L384.5,271.6L387.1,271.4L389.8,271.2L392.6,271.0L395.3,270.8L398.1,270.6L400.9,270.4L403.7,270.2L406.5,270.1L409.4,269.9L412.3,269.7L415.2,269.6L418.1,269.4L421.1,269.2L424.1,269.1L427.1,268.9L430.2,268.8L433.2,268.6L436.3,268.5L439.5,268.4L442.6,268.2L445.8,268.1L449.0,268.0L452.3,267.9L455.6,267.7L458.9,267.6L462.2,267.5L465.6,267.4L468.9,267.3L472.4,267.1L475.8,267.1L479.3,266.9L482.8,266.8L486.4,266.7L489.9,266.6L493.6,266.6L497.2,266.5L500.9,266.4L504.6,266.3L508.3,266.2L512.1,266.1L515.9,266.0L519.7,266.0L523.6,265.9L527.5,265.8L531.5,265.7L535.4,265.7L539.5,265.6L543.5,265.5L547.6,265.5L551.7,265.4L555.9,265.4L560.1,265.3L564.3,265.2L568.6,265.2L572.9,265.1L577.2,265.1L581.6,265.1L586.0,265.0L590.5,265.0L595.0,265.0L599.5,265.0L604.1,264.9L608.8,264.9L613.4,264.9L618.1,264.9L622.9,264.9L627.7,264.9L632.5,264.9L637.4,265.0L642.3,265.0L647.3,265.0L652.3,265.1L657.4,265.1L662.5,265.2L667.6,265.2L672.8,265.3" stroke="#ff00ff"/>
<path id="magenta_dashed" d="M114.1,276.9L114.2,277.3L114.6,278.9L115.0,280.4L115.4,282.0L115.8,283.6L116.3,285.1L116.7,286.6L117.2,288.2L117.6,289.7L118.0,291.2L118.5,292.6L119.0,294.1L119.4,295.6L119.9,297.0L120.4,298.4L120.9,299.8L121.4,301.2L121.9,302.6L122.4,304.0L122.9,305.3L123.5,306.7L124.0,308.0L124.5,309.3L125.1,310.6L125.6,311.9L126.2,313.1L126.8,314.4L127.3,315.6L127.9,316.8L128.5,318.0L129.1,319.2L129.7,320.4L130.3,321.5L131.0,322.6L131.6,323.8L132.2,324.9L132.9,325.9L133.6,327.0L134.2,328.0L134.9,329.1L135.6,330.1L136.3,331.1L137.0,332.0L137.7,333.0L138.5,333.9L139.2,334.8L140.0,335.7L140.7,336.6L141.5,337.5L142.3,338.3L143.1,339.1L143.9,339.9L144.7,340.8L145.5,341.5L146.3,342.3L147.2,343.0L148.1,343.7L148.9,344.4L149.8,345.1L150.0,345.3M153.3,347.6L153.5,347.7L154.4,348.3L155.4,348.9L156.3,349.4L157.3,349.9L158.3,350.5L159.3,351.0L160.3,351.5L161.4,351.9L162.4,352.4L163.5,352.8L164.6,353.3L165.7,353.7L166.8,354.1L167.9,354.4L169.1,354.8L170.2,355.1L171.4,355.4L172.6,355.7L173.8,356.0L175.1,356.3L176.3,356.6L177.6,356.8L178.8,357.0L180.1,357.2L181.4,357.4L182.8,357.6L184.1,357.8L185.5,357.9L186.9,358.0L188.3,358.1L189.7,358.2L191.2,358.3L192.6,358.4L194.1,358.5L195.6,358.5L197.1,358.6L198.7,358.6L200.3,358.6L201.8,358.6L203.5,358.5L205.1,358.5L206.8,358.4L208.4,358.4L210.1,358.3L211.9,358.2L213.6,358.1L215.4,358.0L217.2,357.9L219.0,357.8L220.8,357.6L222.7,357.4L224.6,357.3L226.6,357.1L228.5,356.9L230.5,356.7L232.5,356.5L234.5,356.3L236.6,356.0L238.7,355.8L240.8,355.5L242.9,355.3L245.1,355.0L247.3,354.7L249.6,354.4L251.8,354.1L254.1,353.8L256.5,353.5L258.8,353.2L261.2,352.8L263.7,352.5L266.1,352.1L268.6,351.8L271.2,351.4L273.7,351.0L276.3,350.7L279.0,350.3L281.6,349.9L284.4,349.5L287.1,349.1L289.9,348.7L292.7,348.2L295.6,347.8L298.5,347.4L301.4,347.0L304.4,346.5L307.4,346.1L310.5,345.6L313.6,345.2L316.8,344.7L319.9,344.3L323.2,343.8L326.5,343.3L329.8,342.9L333.2,342.4L336.6,341.9L340.1,341.4L343.6,340.9L347.1,340.4L350.8,340.0L354.4,339.5L358.1,339.0L361.9,338.5L365.7,338.0L369.6,337.5L373.5,337.0L377.5,336.5L381.5,336.0L385.6,335.5L389.7,334.9L393.9,334.4L398.2,333.9L402.5,333.4L406.9,332.9L411.3,332.4L415.8,331.9L420.4,331.4L425.0,330.9L429.7,330.4L434.4,329.9L439.3,329.3L444.1,328.8L449.1,328.3L454.1,327.8L459.2,327.3L464.4,326.8L469.6,326.3L474.9,325.8L480.2,325.3L485.7,324.8L491.2,324.3L496.8,323.8L502.5,323.3L508.2,322.8L514.1,322.4L520.0,321.9L526.0,321.4L532.1,320.9L538.2,320.4L544.5,319.9L550.8,319.5L557.2,319.0L563.7,318.5L570.3,318.1L577.0,317.6L583.8,317.1L590.7,316.7L597.6,316.2L604.7,315.8L611.9,315.4L619.1,314.9L626.5,314.5L633.9,314.0L641.5,313.6L649.2,313.2L656.9,312.7L664.8,312.3L672.8,311.9" stroke="#ff00ff" stroke-dasharray="11.05 9.3"/>
<path id="magenta_dotted" d="M114.2,256.4L114.6,257.0L115.0,257.6L115.4,258.2L115.8,258.8L116.3,259.4L116.7,260.0L117.2,260.6L117.6,261.2L118.0,261.8L118.5,262.4L119.0,263.0L119.4,263.6L119.9,264.2L120.4,264.8L120.9,265.4L121.4,266.0L121.9,266.6L122.4,267.2L122.9,267.8L123.5,268.4L124.0,269.0L124.5,269.6L125.1,270.2L125.6,270.8L126.2,271.4L126.8,272.0L127.3,272.6L127.9,273.2L128.5,273.8L129.1,274.4L129.7,275.0L130.3,275.6L131.0,276.1L131.6,276.7L132.2,277.3L132.9,277.9L133.6,278.5L134.2,279.0L134.9,279.6L135.6,280.2L136.3,280.7L137.0,281.3L137.7,281.9L138.5,282.4L139.2,282.9L140.0,283.5L140.7,284.1L141.5,284.6L142.3,285.1L143.1,285.7L143.9,286.2L144.7,286.7L145.5,287.3L146.3,287.8L147.2,288.3L148.1,288.8L148.9,289.3L149.8,289.9L150.7,290.4L151.6,290.9L152.5,291.4L153.5,291.9L154.4,292.4L155.4,292.9L156.3,293.3L157.3,293.8L158.3,294.3L159.3,294.8L160.3,295.3L161.4,295.7L162.4,296.2L163.5,296.7L164.6,297.1L165.7,297.6L166.8,298.0L167.9,298.5L169.1,298.9L170.2,299.4L171.4,299.8L172.6,300.3L173.8,300.7L175.1,301.1L176.3,301.6L177.6,302.0L178.8,302.4L180.1,302.9L181.4,303.3L182.8,303.7L184.1,304.1L185.5,304.5L186.9,304.9L188.3,305.3L189.7,305.7L191.2,306.1L192.6,306.5L194.1,306.9L195.6,307.3L197.1,307.7L198.7,308.1L200.3,308.4L201.8,308.8L203.5,309.2L205.1,309.6L206.8,309.9L208.4,310.3L210.1,310.7L211.9,311.0L213.6,311.4L215.4,311.7L217.2,312.1L219.0,312.4L220.8,312.8L222.7,313.1L224.6,313.5L226.6,313.8L228.5,314.2L230.5,314.5L232.5,314.8L234.5,315.2L236.6,315.5L238.7,315.8L240.8,316.1L242.9,316.4L245.1,316.8L247.3,317.1L249.6,317.4L251.8,317.7L254.1,318.0L256.5,318.3L258.8,318.6L261.2,318.9L263.7,319.2L266.1,319.5L268.6,319.8L271.2,320.1L273.7,320.4L276.3,320.7L279.0,321.0L281.6,321.2L284.4,321.5L287.1,321.8L289.9,322.1L292.7,322.3L295.6,322.6L298.5,322.9L301.4,323.1L304.4,323.4L307.4,323.7L310.5,323.9L313.6,324.2L316.8,324.4L319.9,324.7L323.2,324.9L326.5,325.2L329.8,325.4L333.2,325.7L336.6,325.9L340.1,326.1L343.6,326.4L347.1,326.6L350.8,326.8L354.4,327.1L358.1,327.3L361.9,327.5L365.7,327.7L369.6,327.9L373.5,328.1L377.5,328.4L381.5,328.6L385.6,328.8L389.7,329.0L393.9,329.2L398.2,329.4L402.5,329.6L406.9,329.8L411.3,330.0L415.8,330.1L420.4,330.3L425.0,330.5L429.7,330.7L434.4,330.9L439.3,331.1L444.1,331.2L449.1,331.4L454.1,331.6L459.2,331.7L464.4,331.9L469.6,332.1L474.9,332.2L480.2,332.4L485.7,332.5L491.2,332.7L496.8,332.9L502.5,333.0L508.2,333.1L514.1,333.3L520.0,333.4L526.0,333.6L532.1,333.7L538.2,333.8L544.5,334.0L550.8,334.1L557.2,334.2L563.7,334.4L570.3,334.5L577.0,334.6L583.8,334.7L590.7,334.9L597.6,335.0L604.7,335.1L611.9,335.2L619.1,335.3L626.5,335.4L633.9,335.5L641.5,335.6L649.2,335.8L656.9,335.9L664.8,336.0L672.8,336.1" stroke="#ff00ff" stroke-dasharray="2.3 6.84" stroke-dashoffset="0.40"/>
<path id="cyan_solid" d="M248.4,405.9L248.4,405.7L248.5,405.5L248.5,405.4L248.6,405.2L248.6,405.1L248.7,404.9L248.8,404.7L248.8,404.5L248.9,404.4L248.9,404.2L249.0,404.0L249.1,403.8L249.2,403.7L249.2,403.5L249.3,403.3L249.4,403.1L249.4,403.0L249.5,402.8L249.6,402.6L249.7,402.4L249.8,402.3L249.9,402.1L250.0,401.9L250.1,401.7L250.2,401.6L250.2,401.4L250.3,401.2L250.4,401.1L250.6,400.9L250.7,400.7L250.8,400.6L250.9,400.4L251.0,400.2L251.1,400.1L251.3,399.9L251.4,399.7L251.5,399.6L251.7,399.4L251.8,399.2L251.9,399.1L252.1,398.9L252.2,398.8L252.4,398.6L252.6,398.4L252.7,398.3L252.9,398.1L253.1,397.9L253.2,397.8L253.4,397.6L253.6,397.4L253.8,397.3L254.0,397.1L254.2,396.9L254.4,396.8L254.6,396.6L254.9,396.4L255.1,396.3L255.3,396.1L255.6,395.9L255.8,395.8L256.1,395.6L256.3,395.4L256.6,395.2L256.9,395.0L257.1,394.9L257.4,394.7L257.7,394.5L258.0,394.3L258.3,394.1L258.6,393.9L259.0,393.7L259.3,393.4L259.7,393.2L260.0,393.0L260.4,392.8L260.8,392.6L261.2,392.4L261.6,392.1L262.0,391.9L262.4,391.6L262.8,391.4L263.2,391.1L263.7,390.9L264.2,390.6L264.6,390.4L265.1,390.1L265.6,389.8L266.2,389.5L266.7,389.2L267.2,388.9L267.8,388.6L268.4,388.3L269.0,388.0L269.6,387.7L270.2,387.3L270.9,387.0L271.5,386.6L272.2,386.3L272.9,385.9L273.6,385.6L274.4,385.2L275.1,384.8L275.9,384.4L276.7,384.0L277.5,383.6L278.3,383.2L279.2,382.8L280.1,382.4L281.0,381.9L281.9,381.5L282.9,381.1L283.9,380.6L284.9,380.1L285.9,379.6L287.0,379.2L288.1,378.7L289.2,378.2L290.4,377.7L291.6,377.1L292.8,376.6L294.1,376.1L295.3,375.6L296.7,375.0L298.0,374.4L299.4,373.9L300.9,373.3L302.3,372.7L303.8,372.1L305.4,371.5L307.0,370.9L308.6,370.3L310.3,369.7L312.1,369.1L313.8,368.4L315.6,367.8L317.5,367.1L319.4,366.4L321.4,365.8L323.5,365.1L325.5,364.4L327.7,363.7L329.9,363.0L332.1,362.3L334.5,361.6L336.9,360.9L339.3,360.1L341.8,359.4L344.4,358.7L347.1,357.9L349.8,357.2L352.6,356.4L355.5,355.7L358.4,354.9L361.4,354.1L364.6,353.3L367.8,352.6L371.1,351.8L374.4,351.0L377.9,350.2L381.5,349.4L385.1,348.6L388.9,347.7L392.7,346.9L396.7,346.1L400.8,345.3L404.9,344.5L409.2,343.6L413.7,342.8L418.2,342.0L422.8,341.2L427.6,340.3L432.5,339.5L437.6,338.7L442.8,337.8L448.1,337.0L453.5,336.2L459.2,335.4L464.9,334.5L470.8,333.7L476.9,332.9L483.2,332.1L489.6,331.2L496.2,330.4L502.9,329.6L509.9,328.8L517.0,328.0L524.4,327.2L531.9,326.4L539.6,325.6L547.6,324.8L555.8,324.0L564.1,323.3L572.8,322.5L581.6,321.7L590.7,321.0L600.0,320.2L609.6,319.5L619.4,318.8L629.5,318.1L639.9,317.4L650.6,316.7L661.5,316.0L672.8,315.4" stroke="#00ffff"/>
<path id="cyan_dashed" d="M114.3,25.6L114.3,26.0L114.6,29.0L115.0,33.7L115.4,38.3L115.8,43.0L116.3,47.6L116.7,52.3L117.2,56.9L117.6,61.5L118.0,66.1L118.5,70.7L119.0,75.2L119.4,79.7L119.9,84.1L120.4,88.6L120.9,93.0L121.4,97.3L121.9,101.6L122.4,105.8L122.9,110.0L123.5,114.2L124.0,118.3L124.5,122.3L125.1,126.3L125.6,130.3L126.2,134.2L126.8,138.0L127.3,141.8L127.9,145.6L128.5,149.3L129.1,152.9L129.7,156.5L130.3,160.0L131.0,163.5L131.6,166.9L132.2,170.3L132.9,173.6L133.6,176.8L134.2,180.1L134.9,183.2L135.6,186.3L136.3,189.4L137.0,192.4L137.7,195.4L138.5,198.3L139.2,201.2L140.0,204.0L140.7,206.8L141.5,209.5L142.3,212.2L143.1,214.9L143.9,217.5L144.7,220.1L145.5,222.6L146.3,225.1L147.2,227.6L148.1,230.0L148.9,232.3L149.8,234.7L150.7,237.0L151.6,239.3L152.5,241.5L153.5,243.7L154.4,245.9L155.4,248.0L156.3,250.1L157.3,252.2L158.3,254.2L159.3,256.3L160.3,258.3L161.4,260.2L162.4,262.2L163.5,264.1L164.6,265.9L165.7,267.8L166.8,269.6L167.9,271.4L169.1,273.2L170.2,275.0L171.4,276.7L171.9,277.4M174.2,280.6L175.1,281.8L176.3,283.4L177.6,285.1L178.8,286.7L180.1,288.2L181.4,289.8L182.8,291.4L184.1,292.9L185.5,294.4L186.9,295.9L188.3,297.3L189.7,298.8L191.2,300.2L192.6,301.6L194.1,303.0L195.6,304.4L197.1,305.7L198.7,307.1L200.3,308.4L201.8,309.7L203.5,311.0L205.1,312.2L206.8,313.5L208.4,314.7L210.1,315.9L211.9,317.1L213.6,318.3L215.4,319.5L217.2,320.7L219.0,321.8L220.8,322.9L222.7,324.0L224.6,325.1L226.6,326.2L228.5,327.3L230.5,328.3L232.5,329.3L234.5,330.4L236.6,331.4L238.7,332.3L240.8,333.3L242.9,334.3L245.1,335.2L247.3,336.1L249.6,337.1L251.8,337.9L254.1,338.8L256.5,339.7L258.8,340.6L261.2,341.4L263.7,342.2L266.1,343.0L268.6,343.8L271.2,344.6L273.7,345.4L276.3,346.2L279.0,346.9L281.6,347.6L284.4,348.4L287.1,349.1L289.9,349.8L292.7,350.4L295.6,351.1L298.5,351.8L301.4,352.4L304.4,353.1L307.4,353.7L310.5,354.3L313.6,354.9L316.8,355.5L319.9,356.1L323.2,356.6L326.5,357.2L329.8,357.7L333.2,358.2L336.6,358.8L340.1,359.3L343.6,359.8L347.1,360.2L350.8,360.7L354.4,361.2L358.1,361.6L361.9,362.1L365.7,362.5L369.6,362.9L373.5,363.3L377.5,363.7L381.5,364.1L385.6,364.5L389.7,364.9L393.9,365.2L398.2,365.6L402.5,365.9L406.9,366.2L411.3,366.5L415.8,366.8L420.4,367.1L425.0,367.4L429.7,367.7L434.4,367.9L439.3,368.2L444.1,368.4L449.1,368.6L454.1,368.8L459.2,369.0L464.4,369.2L469.6,369.4L474.9,369.5L480.2,369.6L485.7,369.8L491.2,369.9L496.8,370.0L502.5,370.1L508.2,370.2L514.1,370.2L520.0,370.3L526.0,370.3L532.1,370.4L538.2,370.4L544.5,370.4L550.8,370.4L557.2,370.3L563.7,370.3L570.3,370.2L577.0,370.2L583.8,370.1L590.7,370.0L597.6,369.9L604.7,369.8L611.9,369.6L619.1,369.5L626.5,369.3L633.9,369.2L641.5,369.0L649.2,368.8L656.9,368.6L664.8,368.4L672.8,368.2" stroke="#00ffff" stroke-dasharray="11.05 9.3"/>
<path id="cyan_dotted" d="M114.2,191.9L114.6,192.7L115.0,193.6L115.4,194.5L115.8,195.4L116.3,196.3L116.7,197.1L117.2,198.0L117.6,198.9L118.0,199.8L118.5,200.7L119.0,201.6L119.4,202.5L119.9,203.4L120.4,204.3L120.9,205.2L121.4,206.0L121.9,206.9L122.4,207.8L122.9,208.7L123.5,209.6L124.0,210.5L124.5,211.4L125.1,212.3L125.6,213.1L126.2,214.0L126.8,214.9L127.3,215.8L127.9,216.6L128.5,217.5L129.1,218.4L129.7,219.2L130.3,220.1L131.0,221.0L131.6,221.8L132.2,222.7L132.9,223.5L133.6,224.4L134.2,225.2L134.9,226.1L135.6,226.9L136.3,227.7L137.0,228.6L137.7,229.4L138.5,230.2L139.2,231.0L140.0,231.8L140.7,232.6L141.5,233.4L142.3,234.2L143.1,235.1L143.9,235.8L144.7,236.6L145.5,237.4L146.3,238.2L147.2,239.0L148.1,239.8L148.9,240.5L149.8,241.3L150.7,242.1L151.6,242.8L152.5,243.6L153.5,244.3L154.4,245.1L155.4,245.8L156.3,246.5L157.3,247.3L158.3,248.0L159.3,248.7L160.3,249.4L161.4,250.2L162.4,250.9L163.5,251.6L164.6,252.3L165.7,253.0L166.8,253.7L167.9,254.4L169.1,255.1L170.2,255.8L171.4,256.4L172.6,257.1L173.8,257.8L175.1,258.5L176.3,259.1L177.6,259.8L178.8,260.5L180.1,261.1L181.4,261.8L182.8,262.4L184.1,263.1L185.5,263.7L186.9,264.4L188.3,265.0L189.7,265.6L191.2,266.2L192.6,266.9L194.1,267.5L195.6,268.1L197.1,268.7L198.7,269.4L200.3,270.0L201.8,270.6L203.5,271.2L205.1,271.8L206.8,272.4L208.4,273.0L210.1,273.6L211.9,274.1L213.6,274.7L215.4,275.3L217.2,275.9L219.0,276.5L220.8,277.1L222.7,277.6L224.6,278.2L226.6,278.8L228.5,279.3L230.5,279.9L232.5,280.4L234.5,281.0L236.6,281.6L238.7,282.1L240.8,282.7L242.9,283.2L245.1,283.8L247.3,284.3L249.6,284.8L251.8,285.4L254.1,285.9L256.5,286.4L258.8,287.0L261.2,287.5L263.7,288.0L266.1,288.5L268.6,289.1L271.2,289.6L273.7,290.1L276.3,290.6L279.0,291.1L281.6,291.6L284.4,292.1L287.1,292.6L289.9,293.1L292.7,293.6L295.6,294.1L298.5,294.6L301.4,295.1L304.4,295.6L307.4,296.1L310.5,296.6L313.6,297.0L316.8,297.5L319.9,298.0L323.2,298.5L326.5,298.9L329.8,299.4L333.2,299.9L336.6,300.3L340.1,300.8L343.6,301.3L347.1,301.7L350.8,302.2L354.4,302.6L358.1,303.1L361.9,303.5L365.7,304.0L369.6,304.4L373.5,304.9L377.5,305.3L381.5,305.7L385.6,306.2L389.7,306.6L393.9,307.0L398.2,307.5L402.5,307.9L406.9,308.3L411.3,308.7L415.8,309.1L420.4,309.6L425.0,310.0L429.7,310.4L434.4,310.8L439.3,311.2L444.1,311.6L449.1,312.0L454.1,312.4L459.2,312.8L464.4,313.2L469.6,313.6L474.9,314.0L480.2,314.4L485.7,314.8L491.2,315.1L496.8,315.5L502.5,315.9L508.2,316.3L514.1,316.7L520.0,317.0L526.0,317.4L532.1,317.8L538.2,318.1L544.5,318.5L550.8,318.9L557.2,319.2L563.7,319.6L570.3,320.0L577.0,320.3L583.8,320.7L590.7,321.1L597.6,321.4L604.7,321.8L611.9,322.1L619.1,322.5L626.5,322.8L633.9,323.2L641.5,323.5L649.2,323.9L656.9,324.2L664.8,324.6L672.8,324.9" stroke="#00ffff" stroke-dasharray="2.3 6.84" stroke-dashoffset="0.60"/>
</g>
<g font-size="16.2" stroke="#000" stroke-width="0.45" style="letter-spacing:0.60px;text-rendering:geometricPrecision">
<text transform="translate(109.30,411.60) scale(1.040,1) rotate(0.03)" text-anchor="end">0.0</text>
<text transform="translate(109.30,331.55) scale(1.040,1) rotate(0.03)" text-anchor="end">0.2</text>
<text transform="translate(109.30,251.50) scale(1.040,1) rotate(0.03)" text-anchor="end">0.4</text>
<text transform="translate(109.30,171.45) scale(1.040,1) rotate(0.03)" text-anchor="end">0.6</text>
<text transform="translate(109.30,91.40) scale(1.040,1) rotate(0.03)" text-anchor="end">0.8</text>
<text transform="translate(109.30,11.35) scale(1.040,1) rotate(0.03)" text-anchor="end"><tspan dx="0.7">1</tspan><tspan dx="-0.5">.</tspan>0</text>
<text transform="translate(231.97,425.60) scale(1.040,1) rotate(0.03)" text-anchor="middle">5</text>
<text transform="translate(378.97,425.60) scale(1.040,1) rotate(0.03)" text-anchor="middle"><tspan dx="0.6">1</tspan><tspan dx="-0.6">0</tspan></text>
<text transform="translate(525.96,425.60) scale(1.040,1) rotate(0.03)" text-anchor="middle"><tspan dx="0.6">1</tspan><tspan dx="-0.6">5</tspan></text>
<text transform="translate(672.95,425.60) scale(1.040,1) rotate(0.03)" text-anchor="middle">20</text>
</g>
<g class="ser" stroke="#000" stroke-width="0.55" style="text-rendering:geometricPrecision">
<text class="ser" x="349.2" y="455.6" font-size="24.6" textLength="17.2" lengthAdjust="spacingAndGlyphs">M</text>
<text class="ser" x="368.7" y="461.2" font-size="17" textLength="22.3" lengthAdjust="spacingAndGlyphs">BH</text>
<text class="ser" x="408.4" y="455.6" font-size="24.6" textLength="17.2" lengthAdjust="spacingAndGlyphs">M</text>
</g>
<path d="M392.5,461.4 L407.3,436.0" stroke="#000" stroke-width="1.5" fill="none"/>
<g stroke="#000" stroke-width="1.45" fill="none">
<path d="M427.20,457.00 L436.20,457.00"/>
<path d="M428.52,453.82 L434.88,460.18"/>
<path d="M431.70,452.50 L431.70,461.50"/>
<path d="M434.88,453.82 L428.52,460.18"/>
</g>
<g stroke="#000" stroke-width="2.0" fill="none" stroke-linecap="butt">
<path d="M-1,205.2 H16.9"/>
<path d="M0.2,198.9 V211.4"/>
<path d="M16.0,201.9 V208.6" stroke-width="1.9"/>
<path d="M0,199.7 H5.9 M0,210.6 H5.9" stroke-width="1.7"/>
</g>
</svg></body></html>
